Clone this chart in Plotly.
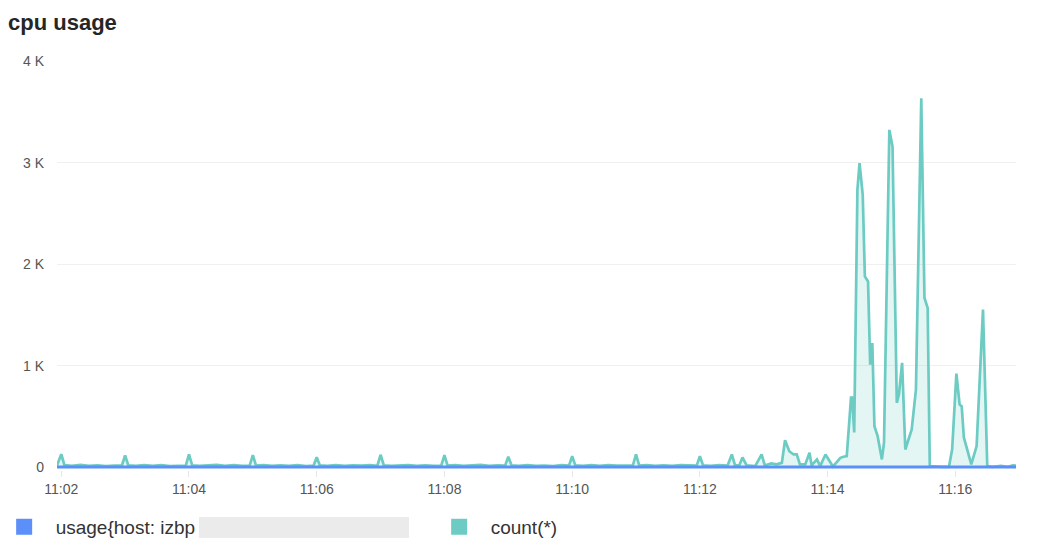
import plotly.graph_objects as go

DAY = "2024-01-01 "

# count(*) series (time, value)
count_times = [
    "11:01:56", "11:02:00", "11:02:03", "11:02:10", "11:02:18", "11:02:26", "11:02:34", "11:02:42", "11:02:50", "11:02:57",
    "11:03:00", "11:03:03", "11:03:10", "11:03:18", "11:03:26", "11:03:34", "11:03:42", "11:03:50", "11:03:57",
    "11:04:00", "11:04:03", "11:04:10", "11:04:18", "11:04:26", "11:04:34", "11:04:42", "11:04:50", "11:04:57",
    "11:05:00", "11:05:03", "11:05:10", "11:05:18", "11:05:26", "11:05:34", "11:05:42", "11:05:50", "11:05:57",
    "11:06:00", "11:06:03", "11:06:10", "11:06:18", "11:06:26", "11:06:34", "11:06:42", "11:06:50", "11:06:57",
    "11:07:00", "11:07:03", "11:07:10", "11:07:18", "11:07:26", "11:07:34", "11:07:42", "11:07:50", "11:07:57",
    "11:08:00", "11:08:03", "11:08:10", "11:08:18", "11:08:26", "11:08:34", "11:08:42", "11:08:50", "11:08:57",
    "11:09:00", "11:09:03", "11:09:10", "11:09:18", "11:09:26", "11:09:34", "11:09:42", "11:09:50", "11:09:57",
    "11:10:00", "11:10:03", "11:10:10", "11:10:18", "11:10:26", "11:10:34", "11:10:42", "11:10:50", "11:10:57",
    "11:11:00", "11:11:03", "11:11:10", "11:11:18", "11:11:26", "11:11:34", "11:11:42", "11:11:50", "11:11:57",
    "11:12:00", "11:12:03", "11:12:10", "11:12:18", "11:12:26", "11:12:30", "11:12:33", "11:12:37", "11:12:40",
    "11:12:44", "11:12:52", "11:12:58",
    "11:13:01", "11:13:07", "11:13:12", "11:13:17", "11:13:20", "11:13:24", "11:13:28", "11:13:31", "11:13:34",
    "11:13:39", "11:13:43", "11:13:45", "11:13:50", "11:13:53", "11:13:58",
    "11:14:01", "11:14:05", "11:14:08", "11:14:12", "11:14:15", "11:14:18", "11:14:22", "11:14:23", "11:14:25",
    "11:14:28", "11:14:30", "11:14:33", "11:14:35", "11:14:38", "11:14:40", "11:14:42", "11:14:44", "11:14:47",
    "11:14:51", "11:14:53", "11:14:58",
    "11:15:01", "11:15:05", "11:15:07", "11:15:10", "11:15:13", "11:15:16", "11:15:19", "11:15:23", "11:15:28",
    "11:15:31", "11:15:34", "11:15:36", "11:15:42", "11:15:48", "11:15:54", "11:15:57",
    "11:16:01", "11:16:04", "11:16:06", "11:16:08", "11:16:15", "11:16:20", "11:16:26", "11:16:30", "11:16:35",
    "11:16:43", "11:16:49", "11:16:54", "11:16:57",
]
count_values = [
    18, 130, 22, 16, 26, 15, 21, 14, 19, 20,
    118, 20, 15, 22, 17, 24, 14, 20, 18,
    128, 21, 16, 19, 25, 15, 22, 17, 19,
    122, 19, 24, 15, 20, 16, 23, 14, 18,
    100, 20, 16, 23, 15, 21, 18, 24, 17,
    125, 22, 15, 19, 24, 16, 20, 15, 19,
    120, 18, 23, 16, 20, 25, 15, 21, 18,
    105, 21, 15, 24, 17, 19, 14, 22, 18,
    110, 20, 16, 22, 15, 23, 18, 16, 19,
    128, 19, 24, 15, 21, 16, 22, 17, 18,
    111, 20, 16, 22, 18, 128, 22, 20, 98,
    20, 13, 128,
    20, 40, 30, 45, 268, 160, 128, 128, 30,
    30, 144, 20, 79, 13, 128,
    79, 10, 46, 95, 105, 111, 688, 688, 344,
    2732, 2995, 2683, 1880, 1831, 1012, 1225, 406, 308,
    79, 245, 3322,
    3158, 636, 717, 1029, 177, 275, 373, 767, 3633,
    1668, 1570, 13, 6, 5, 6, 176,
    923, 620, 600, 295, 30, 210, 1553, 13, 5,
    15, 5, 20, 18,
]

# usage series (stays close to zero)
usage_times = [
    "11:01:56", "11:02:30", "11:03:00", "11:03:30", "11:04:00", "11:04:30", "11:05:00", "11:05:30",
    "11:06:00", "11:06:30", "11:07:00", "11:07:30", "11:08:00", "11:08:30", "11:09:00", "11:09:30",
    "11:10:00", "11:10:30", "11:11:00", "11:11:30", "11:12:00", "11:12:30", "11:13:00", "11:13:30",
    "11:14:00", "11:14:30", "11:15:00", "11:15:30", "11:16:00", "11:16:30", "11:16:57",
]
usage_values = [
    4, 5, 4, 5, 4, 4, 5, 4,
    5, 4, 4, 5, 4, 5, 4, 4,
    5, 4, 5, 4, 5, 5, 5, 5,
    6, 6, 5, 5, 5, 5, 5,
]

y_tickvals = [0, 1000, 2000, 3000, 4000]
y_ticktext = ["0", "1 K", "2 K", "3 K", "4 K"]

usage_name = "usage{host: izbp"
count_name = "count(*)"

BLUE = "#5B8FF9"
TEAL = "#6CCBC3"

fig = go.Figure()

fig.add_trace(go.Scatter(
    x=[DAY + t for t in count_times], y=count_values,
    mode="lines", line=dict(color=TEAL, width=2.7),
    fill="tozeroy", fillcolor="rgba(108,203,195,0.18)",
    showlegend=False, name=count_name,
))
fig.add_trace(go.Scatter(
    x=[DAY + t for t in usage_times], y=usage_values,
    mode="lines", line=dict(color=BLUE, width=3),
    showlegend=False, name=usage_name,
))

# square legend swatches
fig.add_trace(go.Scatter(
    x=[None], y=[None], mode="markers", name=usage_name,
    marker=dict(symbol="square", size=16, color=BLUE),
))
fig.add_trace(go.Scatter(
    x=[None], y=[None], mode="markers", name=count_name,
    marker=dict(symbol="square", size=16, color=TEAL),
))

# redacted host name box in the legend (plot area is 959 x 409 px)
fig.add_shape(
    type="rect", xref="paper", yref="paper",
    x0=(199 - 57) / 959, x1=(409 - 57) / 959,
    y0=-(517 - 470) / 409, y1=-(538 - 470) / 409,
    fillcolor="#ebebeb", line=dict(width=0),
)

# page body adds 8px, so the figure is 8px smaller on each axis
fig.update_layout(
    width=1030, height=546,
    margin=dict(l=49, r=22, t=53, b=84, autoexpand=False),
    paper_bgcolor="white", plot_bgcolor="white",
    font=dict(family="Liberation Sans, Arial, sans-serif", color="#333333"),
    title=dict(text="cpu usage", x=0, xanchor="left", y=0.974, yanchor="middle",
               font=dict(size=22, color="#262626", weight="bold")),
    showlegend=True,
    legend=dict(orientation="h", x=-0.0671, xanchor="left", y=-0.0927, yanchor="top",
                bgcolor="rgba(0,0,0,0)",
                font=dict(size=19, color="#333333"), itemwidth=53,
                entrywidth=367, entrywidthmode="pixels"),
    xaxis=dict(
        type="date", range=[DAY + "11:01:56", DAY + "11:16:57"],
        dtick=120000, tickformat="%H:%M", tick0=DAY + "11:02:00",
        showgrid=False, zeroline=False, showline=False, automargin=False,
        ticks="outside", ticklen=6, tickcolor="#e6e6e6",
        tickfont=dict(size=14, color="#555555"),
    ),
    yaxis=dict(
        range=[-25, 4000], tickvals=y_tickvals, ticktext=y_ticktext,
        showgrid=True, gridcolor="#f0f0f0", zeroline=False, showline=False,
        automargin=False,
        tickfont=dict(size=14, color="#555555"), ticklabelstandoff=12,
    ),
)

fig.write_html("out.html")
